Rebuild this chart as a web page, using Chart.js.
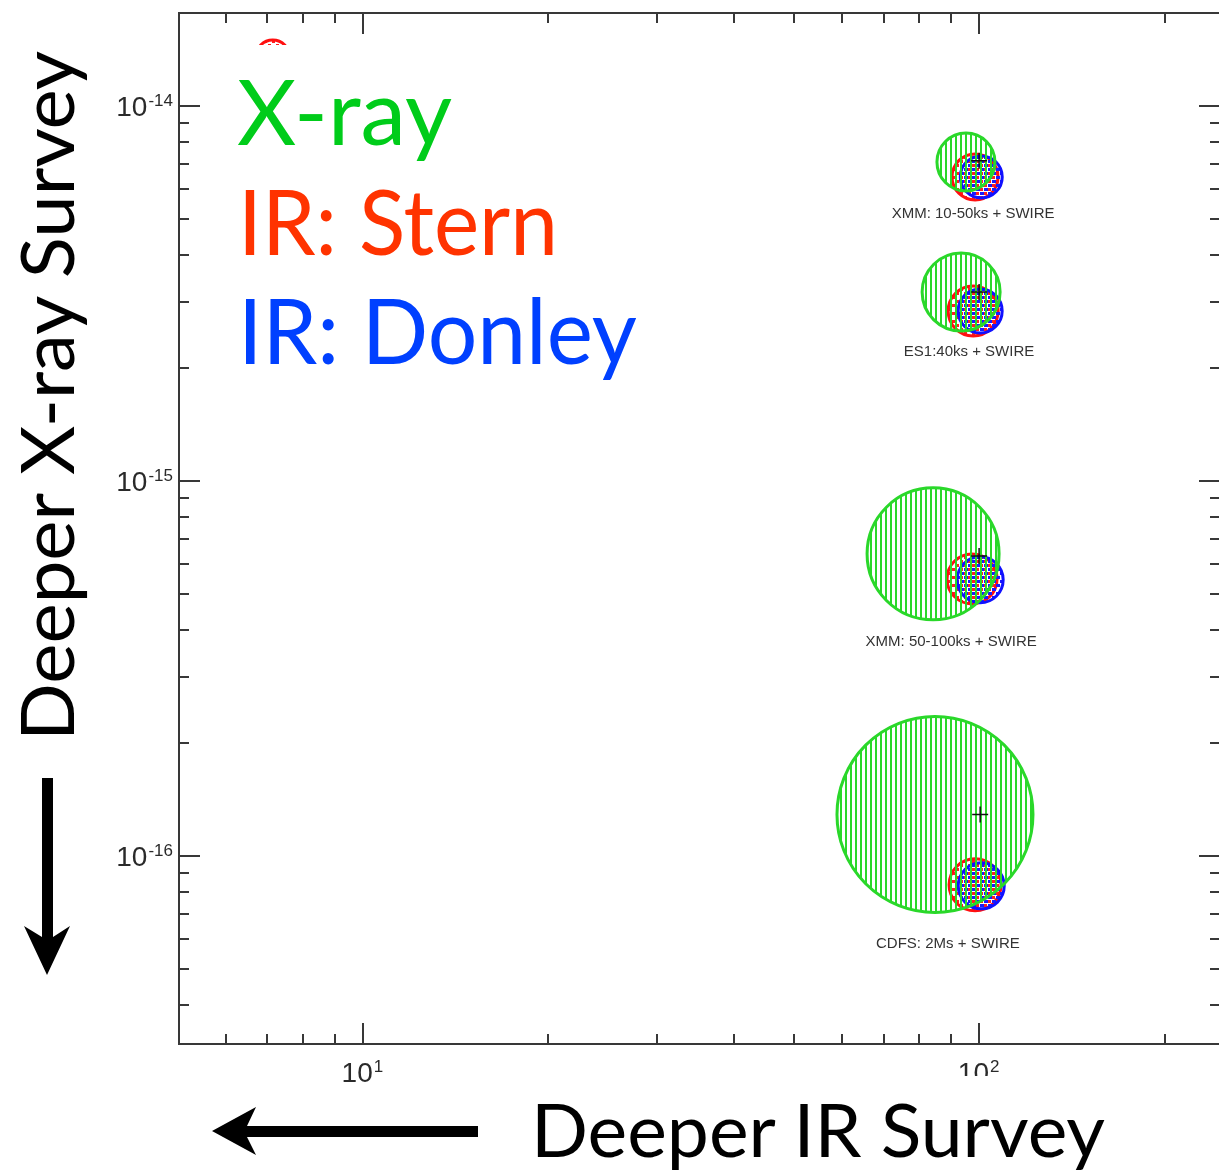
<!DOCTYPE html>
<html>
<head>
<meta charset="utf-8">
<script src="https://cdn.jsdelivr.net/npm/chart.js@4.4.1/dist/chart.umd.min.js"></script>
<style>
  body { margin: 0; overflow: hidden; background: #fff; }
  #wrap { position: absolute; left: 0; top: 0; width: 1224px; height: 1174px; }
  #overlay { position: absolute; left: 0; top: 0; pointer-events: none; }
  #overlay text { font-family: Lato, "Open Sans", sans-serif; }
</style>
</head>
<body>
<div id="wrap"><canvas id="mychart" width="1224" height="1174"></canvas></div>
<svg id="overlay" width="1219" height="1174">
  <!-- legend block -->
  <rect x="228" y="45" width="420" height="350" fill="#fff"/>
  <text x="237" y="145" font-size="92" fill="#00cc1a" textLength="215" lengthAdjust="spacingAndGlyphs">X-ray</text>
  <text x="238" y="255" font-size="92" fill="#ff3300" textLength="320" lengthAdjust="spacingAndGlyphs">IR: Stern</text>
  <text x="238" y="364" font-size="92" fill="#0040ff" textLength="399" lengthAdjust="spacingAndGlyphs">IR: Donley</text>
  <!-- axis titles -->
  <rect x="520" y="1076" width="700" height="98" fill="#fff"/>
  <text x="531" y="1157" font-size="74" fill="#000" textLength="574" lengthAdjust="spacingAndGlyphs">Deeper IR Survey</text>
  <text transform="translate(74,741) rotate(-90)" font-size="74" fill="#000" textLength="690" lengthAdjust="spacingAndGlyphs">Deeper X-ray Survey</text>
  <path d="M478,1126 H247 L256,1107 L212,1131 L256,1155 L247,1137 H478 Z" fill="#000"/>
  <path d="M42,778 V937 L24,926 L47,975 L70,926 L53,937 V778 Z" fill="#000"/>
</svg>
<script>
// survey captions and where they sit
var surveys = ['XMM: 10-50ks + SWIRE', 'ES1:40ks + SWIRE', 'XMM: 50-100ks + SWIRE', 'CDFS: 2Ms + SWIRE'];
var captionX = [97.8, 96.3, 90.1, 89.0];
var captionY = [5.15e-15, 2.21e-15, 3.72e-16, 5.82e-17];

// X-ray selected AGN
var xrayX = [95.2, 93.5, 84.2, 84.8];
var xrayY = [7.09e-15, 3.19e-15, 6.39e-16, 1.29e-16];
var xrayR = [29, 39, 66, 98];

// IR selection, Stern wedge
var sternX = [7.14, 98.5, 97.8, 97.4, 98.5];
var sternY = [1.35e-14, 6.47e-15, 2.84e-15, 5.48e-16, 8.37e-17];
var sternR = [17, 23, 25, 25, 26];

// IR selection, Donley wedge
var donleyX = [100.8, 100.4, 100.4, 100.8];
var donleyY = [6.47e-15, 2.84e-15, 5.45e-16, 8.32e-17];
var donleyR = [21, 22, 23, 23];

// survey depth (plus signs)
var depthX = [100, 100, 100, 100.4];
var depthY = [7.14e-15, 3.19e-15, 6.31e-16, 1.29e-16];

// axis ticks
var xMajor = [10, 100];
var xTickLabels = [['10', '1'], ['10', '2']];
var xMinor = [6, 7, 8, 9, 20, 30, 40, 50, 60, 70, 80, 90, 200];
var yMajor = [1e-14, 1e-15, 1e-16];
var yTickLabels = [['10', '-14'], ['10', '-15'], ['10', '-16']];
var yMinor = [9e-15, 8e-15, 7e-15, 6e-15, 5e-15, 4e-15, 3e-15, 2e-15,
              9e-16, 8e-16, 7e-16, 6e-16, 5e-16, 4e-16, 3e-16, 2e-16,
              9e-17, 8e-17, 7e-17, 6e-17, 5e-17, 4e-17];

function toPoints(xs, ys) {
  return xs.map(function (x, i) { return { x: x, y: ys[i] }; });
}

// fill patterns
function makePattern(w, h, draw) {
  var t = document.createElement('canvas');
  t.width = w; t.height = h;
  draw(t.getContext('2d'));
  return document.getElementById('mychart').getContext('2d').createPattern(t, 'repeat');
}
var stripes = makePattern(5, 4, function (g) { g.fillStyle = '#2ad82a'; g.fillRect(0, 0, 2, 4); });
var redDots = makePattern(8, 8, function (g) { g.fillStyle = '#ff2020'; g.fillRect(0, 0, 3, 3); g.fillRect(4, 4, 3, 3); });
var blueDots = makePattern(8, 8, function (g) { g.fillStyle = '#1a1aff'; g.fillRect(4, 0, 4, 3); g.fillRect(0, 4, 4, 3); });

var big = '28px "Liberation Sans", Arial, sans-serif';
var small = '17px "Liberation Sans", Arial, sans-serif';

function powerLabel(c, parts, x, y, align) {
  c.font = big; var w1 = c.measureText(parts[0]).width;
  c.font = small; var w2 = c.measureText(parts[1]).width;
  var x0 = align === 'right' ? x - w1 - w2 : x - (w1 + w2) / 2;
  c.textAlign = 'left'; c.textBaseline = 'alphabetic';
  c.font = big; c.fillText(parts[0], x0, y);
  c.font = small; c.fillText(parts[1], x0 + w1 + 1, y - 10);
}

var frame = {
  id: 'frame',
  afterDraw: function (chart) {
    var c = chart.ctx, a = chart.chartArea, sx = chart.scales.x, sy = chart.scales.y;
    c.save();
    c.strokeStyle = '#383838';
    c.lineWidth = 2;
    c.strokeRect(a.left, a.top, a.right - a.left, a.bottom - a.top);
    c.beginPath();
    function xt(v, len) {
      var p = Math.round(sx.getPixelForValue(v));
      c.moveTo(p, a.bottom); c.lineTo(p, a.bottom - len);
      c.moveTo(p, a.top); c.lineTo(p, a.top + len);
    }
    function yt(v, len) {
      var p = Math.round(sy.getPixelForValue(v));
      c.moveTo(a.left, p); c.lineTo(a.left + len, p);
      c.moveTo(a.right, p); c.lineTo(a.right - len, p);
    }
    xMajor.forEach(function (v) { xt(v, 21); });
    xMinor.forEach(function (v) { xt(v, 10); });
    yMajor.forEach(function (v) { yt(v, 21); });
    yMinor.forEach(function (v) { yt(v, 10); });
    c.stroke();

    c.fillStyle = '#2a2a2a';
    xMajor.forEach(function (v, i) {
      powerLabel(c, xTickLabels[i], sx.getPixelForValue(v) - 1, a.bottom + 38, 'center');
    });
    yMajor.forEach(function (v, i) {
      powerLabel(c, yTickLabels[i], a.left - 7, sy.getPixelForValue(v) + 10, 'right');
    });

    // survey captions
    c.font = '15px "Liberation Sans", Arial, sans-serif';
    c.fillStyle = '#333';
    c.textAlign = 'center';
    c.textBaseline = 'middle';
    surveys.forEach(function (s, i) {
      c.fillText(s, sx.getPixelForValue(captionX[i]), sy.getPixelForValue(captionY[i]));
    });
    c.restore();
  }
};

var ctx = document.getElementById('mychart');
var myChart = new Chart(ctx, {
  type: 'scatter',
  data: {
    datasets: [
      {
        label: 'depth',
        data: toPoints(depthX, depthY),
        pointStyle: 'cross',
        pointRadius: 8,
        pointBorderColor: '#111',
        pointBorderWidth: 1.5,
        order: 0
      },
      {
        label: 'X-ray',
        data: toPoints(xrayX, xrayY),
        pointRadius: xrayR,
        pointBackgroundColor: stripes,
        pointBorderColor: '#2ad82a',
        pointBorderWidth: 3,
        order: 1
      },
      {
        label: 'IR: Donley',
        data: toPoints(donleyX, donleyY),
        pointRadius: donleyR,
        pointBackgroundColor: blueDots,
        pointBorderColor: '#1010ff',
        pointBorderWidth: 3,
        order: 2
      },
      {
        label: 'IR: Stern',
        data: toPoints(sternX, sternY),
        pointRadius: sternR,
        pointBackgroundColor: redDots,
        pointBorderColor: '#ff1010',
        pointBorderWidth: 3,
        order: 3
      }
    ]
  },
  options: {
    responsive: false,
    animation: false,
    events: [],
    layout: { autoPadding: false, padding: { top: 13, right: 4, left: 0, bottom: 0 } },
    plugins: { legend: { display: false }, tooltip: { enabled: false } },
    scales: {
      x: {
        type: 'logarithmic', min: 5.03, max: 246,
        grid: { display: false }, border: { display: false }, ticks: { display: false },
        afterFit: function (s) { s.height = 130; }
      },
      y: {
        type: 'logarithmic', min: 3.15e-17, max: 1.77e-14,
        grid: { display: false }, border: { display: false }, ticks: { display: false },
        afterFit: function (s) { s.width = 179; }
      }
    }
  },
  plugins: [frame]
});
</script>
</body>
</html>
